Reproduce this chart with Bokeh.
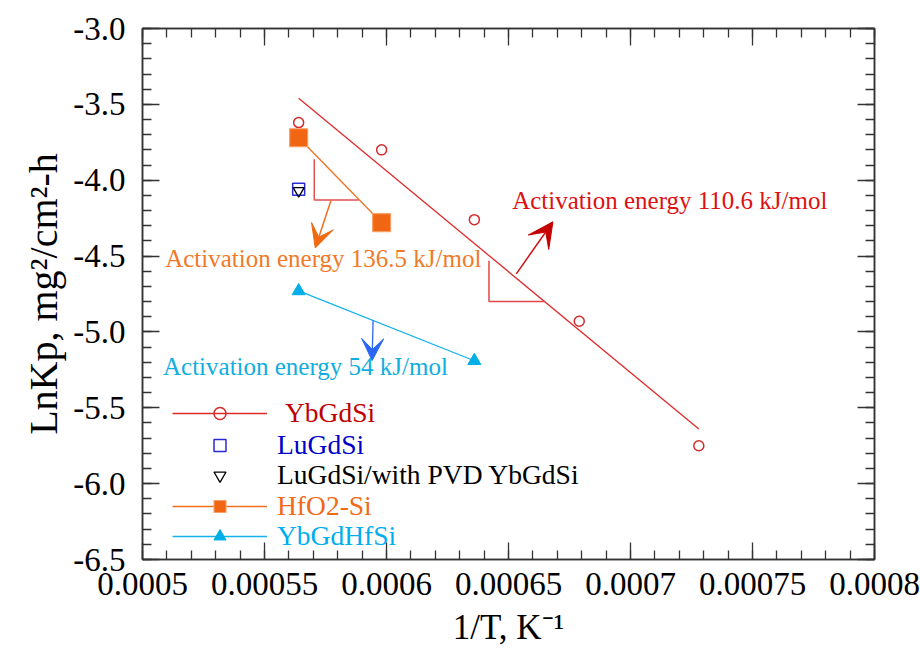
from bokeh.plotting import figure
from bokeh.models import (Range1d, LinearAxis, FixedTicker, Legend, LegendItem,
                          Arrow, VeeHead, Label)
from bokeh.embed import file_html
from bokeh.resources import INLINE
import numpy as np

# ---------------- data ----------------
ybgdsi_x = [0.000564, 0.000598, 0.000636, 0.000679, 0.000728]
ybgdsi_y = [-3.62, -3.80, -4.26, -4.93, -5.75]
ybgdsi_fit_x = [0.000564, 0.000728]
ybgdsi_fit_y = [-3.46, -5.64]
lugdsi_x = [0.000564]
lugdsi_y = [-4.06]
lugdsi_pvd_x = [0.000564]
lugdsi_pvd_y = [-4.07]
hfo2_x = [0.000564, 0.000598]
hfo2_y = [-3.72, -4.28]
ybgdhfsi_x = [0.000564, 0.000636]
ybgdhfsi_y = [-4.73, -5.19]

series_names = ["YbGdSi", "LuGdSi", "LuGdSi/with PVD YbGdSi", "HfO2-Si", "YbGdHfSi"]
annotation_texts = ["Activation energy 110.6 kJ/mol",
                    "Activation energy 136.5 kJ/mol",
                    "Activation energy 54 kJ/mol"]

x_ticks = [0.0005, 0.00055, 0.0006, 0.00065, 0.0007, 0.00075, 0.0008]
x_tick_labels = ["0.0005", "0.00055", "0.0006", "0.00065", "0.0007", "0.00075", "0.0008"]
y_ticks = [-3.0, -3.5, -4.0, -4.5, -5.0, -5.5, -6.0, -6.5]
y_tick_labels = ["-3.0", "-3.5", "-4.0", "-4.5", "-5.0", "-5.5", "-6.0", "-6.5"]

# annotation geometry (data coordinates)
red_tri_x = [0.000642, 0.000642, 0.000665]
red_tri_y = [-4.531, -4.799, -4.799]
org_tri_x = [0.0005704, 0.0005704, 0.0005886]
org_tri_y = [-3.862, -4.130, -4.130]

FONT = "Liberation Serif"
C_RED = "#e02a2a"
C_ORG = "#f07020"
C_CYAN = "#14b2ea"
C_AXIS = "#333333"

p = figure(width=920, height=649, x_range=Range1d(0.0005, 0.0008),
           y_range=Range1d(-6.5, -3.0), output_backend="svg", toolbar_location=None,
           min_border_left=142, min_border_right=46, min_border_top=28,
           min_border_bottom=90)
p.xgrid.visible = False
p.ygrid.visible = False
p.outline_line_color = C_AXIS
p.outline_line_width = 1.5
p.background_fill_color = "white"
p.border_fill_color = "white"

x_minor = list(np.round(np.arange(0.0005, 0.00080001, 0.00001), 6))
y_minor = list(np.round(np.arange(-6.5, -2.99, 0.1), 2))
xt = FixedTicker(ticks=x_ticks, minor_ticks=x_minor)
yt = FixedTicker(ticks=y_ticks, minor_ticks=y_minor)

def style_axis(ax, labels):
    ax.axis_line_color = C_AXIS
    ax.axis_line_width = 1.5
    ax.major_tick_line_color = C_AXIS
    ax.minor_tick_line_color = C_AXIS
    ax.major_tick_line_width = 1.3
    ax.minor_tick_line_width = 1.3
    ax.major_tick_in = 17
    ax.major_tick_out = 0
    ax.minor_tick_in = 9
    ax.minor_tick_out = 0
    if labels:
        ax.major_label_text_font = FONT
        ax.major_label_text_font_size = "33px"
        ax.major_label_text_color = "black"
        ax.axis_label_text_font = FONT
        ax.axis_label_text_font_style = "normal"
        ax.axis_label_text_color = "black"
    else:
        ax.major_label_overrides = {}
        ax.major_label_standoff = 0

xa = p.xaxis[0]
xa.ticker = xt
xa.major_label_overrides = {t: l for t, l in zip(x_ticks, x_tick_labels)}
xa.axis_label = "1/T, K\u207b\u00b9"
style_axis(xa, True)
xa.axis_label_text_font_size = "35px"
xa.major_label_standoff = 13
xa.axis_label_standoff = 10

ya = p.yaxis[0]
ya.ticker = yt
ya.major_label_overrides = {t: l for t, l in zip(y_ticks, y_tick_labels)}
ya.axis_label = "LnKp, mg\u00b2/cm\u00b2-h"
style_axis(ya, True)
ya.axis_label_text_font_size = "40px"
ya.major_label_standoff = 17
ya.axis_label_standoff = 4

# frame-side axes on top and right: ticks only, no labels
ra = LinearAxis(ticker=yt, major_label_overrides={t: "" for t in y_ticks})
style_axis(ra, False)
ra.major_label_overrides = {t: "" for t in y_ticks}
p.add_layout(ra, "right")
ta = LinearAxis(ticker=xt, major_label_overrides={t: "" for t in x_ticks})
style_axis(ta, False)
ta.major_label_overrides = {t: "" for t in x_ticks}
p.add_layout(ta, "above")

# ---------------- series ----------------
r_fit = p.line(ybgdsi_fit_x, ybgdsi_fit_y, line_color=C_RED, line_width=1.3)
r_c = p.scatter(ybgdsi_x, ybgdsi_y, marker="circle", size=10, fill_color=None,
                line_color="#d42a2a", line_width=1.5)
r_lu = p.scatter(lugdsi_x, lugdsi_y, marker="square", size=12, fill_color=None,
                 line_color="#2b2bd6", line_width=1.5)
r_pvd = p.scatter(lugdsi_pvd_x, lugdsi_pvd_y, marker="inverted_triangle", size=11,
                  fill_color=None, line_color="black", line_width=1.3)
r_hl = p.line(hfo2_x, hfo2_y, line_color=C_ORG, line_width=1.3)
r_hs = p.scatter(hfo2_x, hfo2_y, marker="square", size=18, fill_color="#f06612",
                 line_color="#f6a068", line_width=1.2)
r_cl = p.line(ybgdhfsi_x, ybgdhfsi_y, line_color=C_CYAN, line_width=1.3)
r_cs = p.scatter(ybgdhfsi_x, ybgdhfsi_y, marker="triangle", size=13,
                 fill_color="#00aee8", line_color="#00aee8")

# slope triangles
p.line(red_tri_x, red_tri_y, line_color="#e04848", line_width=1.5)
p.line(org_tri_x, org_tri_y, line_color="#e05050", line_width=1.5)

# arrows
p.add_layout(Arrow(end=VeeHead(size=25, fill_color="#c40000", line_color="#c40000"),
                   x_start=0.0006532, y_start=-4.617, x_end=0.0006682, y_end=-4.274,
                   line_color="#d01010", line_width=1.5))
p.add_layout(Arrow(end=VeeHead(size=23, fill_color="#f06a12", line_color="#f06a12"),
                   x_start=0.0005772, y_start=-4.136, x_end=0.0005708, y_end=-4.447,
                   line_color=C_ORG, line_width=1.5))
p.add_layout(Arrow(end=VeeHead(size=22, fill_color="#2a66f5", line_color="#2a66f5"),
                   x_start=0.0005945, y_start=-4.924, x_end=0.0005941, y_end=-5.189,
                   line_color="#2a66f5", line_width=1.3))

# annotation texts
for txt, xx, yy, col in [(annotation_texts[0], 0.0006515, -4.136, "#dd1111"),
                         (annotation_texts[1], 0.0005093, -4.513, "#f07a28"),
                         (annotation_texts[2], 0.0005084, -5.226, "#10aee0")]:
    p.add_layout(Label(x=xx, y=yy, text=txt, text_font=FONT, text_font_size="25px",
                       text_color=col, text_baseline="middle", text_align="left"))

# ---------------- legends (one per row, each with its own text colour) ----------------
leg_rows = [
    (series_names[0], [r_fit, r_c], "#c00000", 130, 18),
    (series_names[1], [r_lu], "#0000c8", 98, 10),
    (series_names[2], [r_pvd], "black", 68, 10),
    (series_names[3], [r_hl, r_hs], "#f06a18", 37, 10),
    (series_names[4], [r_cl, r_cs], "#00aeef", 7, 10),
]
for name, rends, col, vy, stand in leg_rows:
    lg = Legend(items=[LegendItem(label=name, renderers=rends)], location=(30, vy),
                glyph_width=95, glyph_height=30, label_height=30, label_standoff=stand,
                label_text_font=FONT, label_text_font_size="27.5px", label_text_color=col,
                padding=0, margin=0, spacing=0, border_line_color=None,
                background_fill_alpha=0)
    p.add_layout(lg, "center")

open("out.html", "w").write(file_html(p, INLINE))
